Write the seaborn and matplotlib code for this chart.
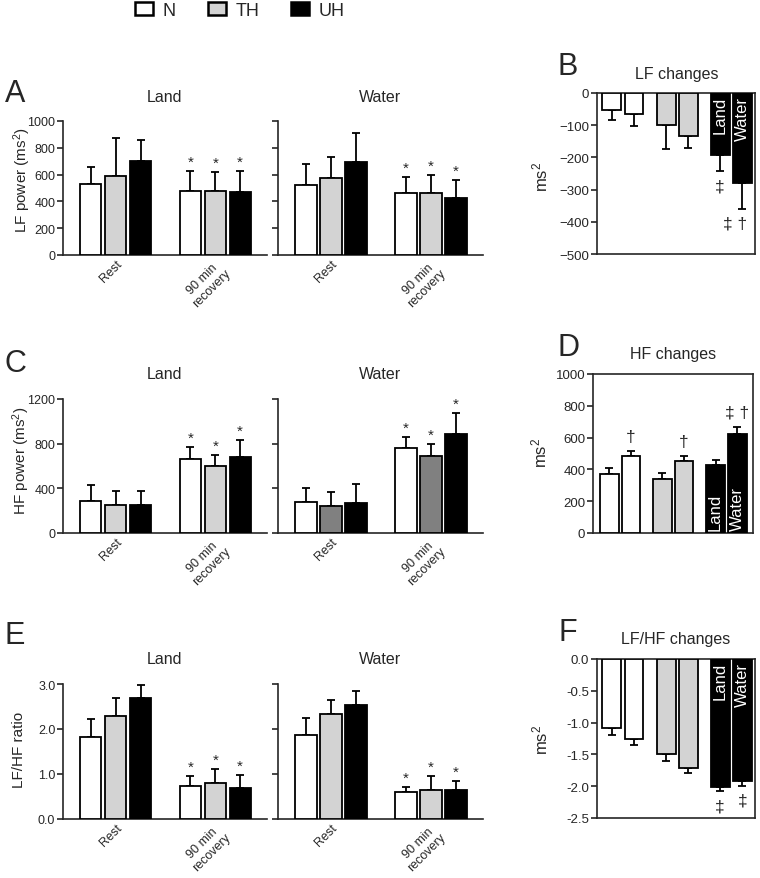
import numpy as np
import pandas as pd
import matplotlib
matplotlib.use("Agg")
import matplotlib.pyplot as plt
import seaborn as sns
from matplotlib.patches import Patch
from matplotlib.ticker import FormatStrFormatter

# ---------------- data ----------------
conditions = ["Rest", "90 min\nrecovery"]
groups = ["N", "TH", "UH"]
envs = ["Land", "Water"]

# order: Rest N, TH, UH, 90 min N, TH, UH
lf_land_mean = [532, 587, 701, 480, 480, 468]
lf_land_sd = [127, 284, 157, 149, 142, 161]
lf_water_mean = [520, 575, 692, 460, 463, 428]
lf_water_sd = [159, 154, 221, 122, 132, 134]

hf_land_mean = [289, 253, 247, 664, 598, 679]
hf_land_sd = [143, 125, 125, 110, 101, 157]
hf_water_mean = [277, 244, 265, 762, 693, 887]
hf_water_sd = [125, 122, 175, 101, 105, 187]

ratio_land_mean = [1.83, 2.30, 2.68, 0.74, 0.81, 0.68]
ratio_land_sd = [0.39, 0.39, 0.29, 0.21, 0.30, 0.30]
ratio_water_mean = [1.86, 2.34, 2.54, 0.61, 0.65, 0.65]
ratio_water_sd = [0.39, 0.30, 0.30, 0.10, 0.31, 0.19]

star_marks = ["", "", "", "*", "*", "*"]

# change panels, order: N-Land, N-Water, TH-Land, TH-Water, UH-Land, UH-Water
lf_change_mean = [-52, -64, -100, -133, -194, -279]
lf_change_sd = [32, 40, 73, 39, 49, 80]
lf_change_marks = ["", "", "", "", "\u2021", "\u2021 \u2020"]

hf_change_mean = [374, 484, 342, 451, 430, 622]
hf_change_sd = [37, 32, 34, 31, 29, 46]
hf_change_marks = ["", "\u2020", "", "\u2020", "", "\u2021 \u2020"]

ratio_change_mean = [-1.09, -1.25, -1.50, -1.71, -2.01, -1.92]
ratio_change_sd = [0.11, 0.11, 0.10, 0.08, 0.07, 0.07]
ratio_change_marks = ["", "", "", "", "\u2021", "\u2021"]

group_colors = {"N": "#ffffff", "TH": "#d3d3d3", "UH": "#000000"}
dark_colors = {"N": "#ffffff", "TH": "#808080", "UH": "#000000"}

# ---------------- style ----------------
sns.set_style("ticks")
plt.rcParams["font.family"] = ["Liberation Sans", "DejaVu Sans"]
plt.rcParams["mathtext.fontset"] = "custom"
plt.rcParams["mathtext.rm"] = "Liberation Sans"
plt.rcParams["mathtext.it"] = "Liberation Sans"
plt.rcParams["axes.linewidth"] = 1.2

W, H = 760, 879
fig = plt.figure(figsize=(W / 100, H / 100), dpi=100)


def add_ax(left, right, top, bottom):
    return fig.add_axes([left / W, 1 - bottom / H, (right - left) / W, (bottom - top) / H])


LW = 1.3


def group_panel(ax, means, sds, palette, ylim, yticks, fmt=None, labels=True):
    df = pd.DataFrame({"condition": np.repeat(conditions, 3),
                       "group": groups * 2, "value": means})
    sns.barplot(data=df, x="condition", y="value", hue="group",
                order=conditions, hue_order=groups, palette=palette,
                width=0.75, gap=0.15, edgecolor="black", linewidth=LW,
                saturation=1, errorbar=None, legend=False, ax=ax, zorder=3)
    bars = sorted(ax.patches, key=lambda p: p.get_x())
    for p, m, s, mk in zip(bars, means, sds, star_marks):
        cx = p.get_x() + p.get_width() / 2
        ax.errorbar(cx, m, yerr=[[0], [s]], fmt="none", ecolor="black",
                    elinewidth=LW, capsize=3, capthick=LW, zorder=2)
        if mk:
            ax.annotate(mk, (cx, m + s), xytext=(0, 1.5), textcoords="offset points",
                        ha="center", va="bottom", fontsize=11)
    ax.set_xlim(-0.53, 1.52)
    ax.set_ylim(*ylim)
    ax.set_yticks(yticks)
    if fmt:
        ax.yaxis.set_major_formatter(FormatStrFormatter(fmt))
    ax.set_xlabel("")
    ax.set_ylabel("")
    ax.set_xticks([0, 1])
    ax.set_xticklabels(conditions, rotation=45, ha="right", linespacing=1.05,
                       rotation_mode="anchor", multialignment="center", fontsize=9)
    ax.tick_params(axis="x", length=0, pad=2)
    ax.tick_params(axis="y", length=4, width=1.2, labelsize=9, pad=1.5)
    if not labels:
        ax.tick_params(axis="y", labelleft=False)
    sns.despine(ax=ax)


def change_panel(ax, means, sds, marks, ylim, yticks, xlim, fmt=None,
                 text_top=True, mark_dx=0):
    df = pd.DataFrame({"group": np.repeat(groups, 2), "env": envs * 3, "value": means})
    sns.barplot(data=df, x="group", y="value", hue="env", order=groups,
                hue_order=envs, palette=["#ffffff", "#ffffff"],
                width=0.815, gap=0.14, edgecolor="black", linewidth=LW,
                saturation=1, errorbar=None, legend=False, ax=ax, zorder=3)
    bars = sorted(ax.patches, key=lambda p: p.get_x())
    gl = list(np.repeat(groups, 2))
    el = envs * 3
    for i, (p, m, s, mk) in enumerate(zip(bars, means, sds, marks)):
        p.set_facecolor(group_colors[gl[i]])
        cx = p.get_x() + p.get_width() / 2
        sign = 1 if m >= 0 else -1
        yerr = [[0], [s]] if sign > 0 else [[s], [0]]
        ax.errorbar(cx, m, yerr=yerr, fmt="none", ecolor="black",
                    elinewidth=LW, capsize=3, capthick=LW, zorder=2)
        if mk:
            dx = mark_dx if len(mk) > 1 else 0
            ax.annotate(mk, (cx, m + sign * s), xytext=(dx, sign * 10.5),
                        textcoords="offset points", ha="center", va="center",
                        fontsize=12.5)
        if gl[i] == "UH":
            if text_top:
                ax.annotate(el[i], (cx, 0), xytext=(0, -2), textcoords="offset points",
                            rotation=90, ha="center", va="top", color="white",
                            fontsize=12, zorder=5)
            else:
                ax.annotate(el[i], (cx, 0), xytext=(0, 2), textcoords="offset points",
                            rotation=90, ha="center", va="bottom", color="white",
                            fontsize=12, zorder=5)
    ax.set_xlim(*xlim)
    ax.set_ylim(*ylim)
    ax.set_yticks(yticks)
    if fmt:
        ax.yaxis.set_major_formatter(FormatStrFormatter(fmt))
    ax.set_xlabel("")
    ax.set_ylabel("")
    ax.set_xticks([])
    ax.tick_params(axis="y", length=4, width=1.2, labelsize=9.5, pad=1.5)
    for sp in ax.spines.values():
        sp.set_visible(True)
        sp.set_linewidth(1.2)


# ---------------- panels A ----------------
axA1 = add_ax(63, 267, 122, 256)
axA2 = add_ax(278, 483, 122, 256)
group_panel(axA1, lf_land_mean, lf_land_sd, group_colors, (0, 1000), range(0, 1001, 200))
group_panel(axA2, lf_water_mean, lf_water_sd, group_colors, (0, 1000), range(0, 1001, 200), labels=False)

axB = add_ax(597, 755, 94, 255)
change_panel(axB, lf_change_mean, lf_change_sd, lf_change_marks, (-500, 0),
             range(-500, 1, 100), (-0.48, 2.44), text_top=True, mark_dx=-5)

# ---------------- panels C ----------------
axC1 = add_ax(63, 267, 400, 534)
axC2 = add_ax(278, 483, 400, 534)
group_panel(axC1, hf_land_mean, hf_land_sd, group_colors, (0, 1200), range(0, 1201, 400))
group_panel(axC2, hf_water_mean, hf_water_sd, dark_colors, (0, 1200), range(0, 1201, 400), labels=False)

axD = add_ax(593, 753, 375, 534)
change_panel(axD, hf_change_mean, hf_change_sd, hf_change_marks, (0, 1000),
             range(0, 1001, 200), (-0.51, 2.5), text_top=False, mark_dx=0)

# ---------------- panels E ----------------
axE1 = add_ax(63, 267, 685, 820)
axE2 = add_ax(278, 483, 685, 820)
group_panel(axE1, ratio_land_mean, ratio_land_sd, group_colors, (0, 3), [0, 1, 2, 3], fmt="%.1f")
group_panel(axE2, ratio_water_mean, ratio_water_sd, group_colors, (0, 3), [0, 1, 2, 3], fmt="%.1f", labels=False)

axF = add_ax(597, 755, 660, 819)
change_panel(axF, ratio_change_mean, ratio_change_sd, ratio_change_marks, (-2.5, 0),
             np.arange(-2.5, 0.01, 0.5), (-0.48, 2.44), fmt="%.1f", text_top=True)


# ---------------- texts ----------------
def ftext(x, y, s, **kw):
    fig.text(x / W, 1 - y / H, s, **kw)


for y, s in [(94, "A"), (364, "C"), (636, "E")]:
    ftext(15, y, s, fontsize=22, ha="center", va="center")
for y, s in [(67, "B"), (348, "D"), (633, "F")]:
    ftext(568, y, s, fontsize=22, ha="center", va="center")

for y in (97, 375, 660):
    ftext(165, y, "Land", fontsize=11.5, ha="center", va="center")
    ftext(380, y, "Water", fontsize=11.5, ha="center", va="center")

ftext(677, 75, "LF changes", fontsize=11.5, ha="center", va="center")
ftext(673, 355, "HF changes", fontsize=11.5, ha="center", va="center")
ftext(676, 640, "LF/HF changes", fontsize=11.5, ha="center", va="center")

ftext(22, 180, r"LF power (ms$^2$)", fontsize=11, rotation=90, ha="center", va="center")
ftext(21, 461, r"HF power (ms$^2$)", fontsize=11, rotation=90, ha="center", va="center")
ftext(19, 750, "LF/HF ratio", fontsize=11, rotation=90, ha="center", va="center")
ftext(540, 177, r"ms$^2$", fontsize=12, rotation=90, ha="center", va="center")
ftext(539, 453, r"ms$^2$", fontsize=12, rotation=90, ha="center", va="center")
ftext(540, 740, r"ms$^2$", fontsize=12, rotation=90, ha="center", va="center")

# ---------------- legend ----------------
handles = [Patch(facecolor=group_colors[g], edgecolor="black", linewidth=1.8) for g in groups]
fig.legend(handles, groups, ncol=3, loc="center", bbox_to_anchor=(240 / W, 1 - 11 / H),
           frameon=False, handlelength=1.0, handleheight=0.72,
           handletextpad=0.55, columnspacing=1.75,
           prop={"family": ["Liberation Sans Narrow", "Liberation Sans"], "size": 13})

fig.savefig("out.png", dpi=100)
